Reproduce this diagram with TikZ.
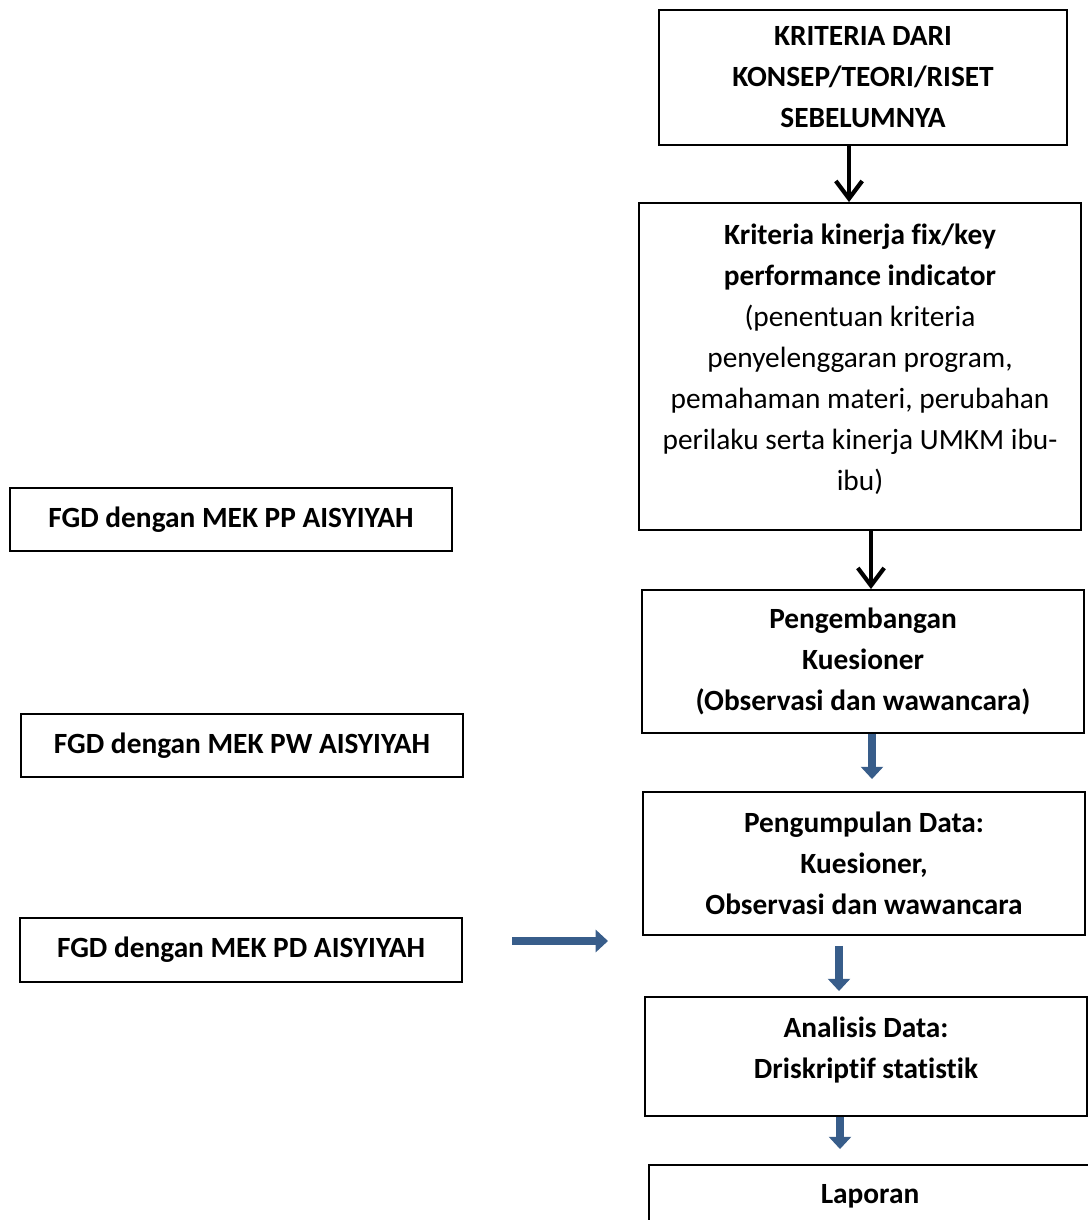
\documentclass[tikz,border=0pt]{standalone}
\usepackage{fontspec}
\setmainfont[Ligatures=NoCommon]{Carlito}
\usepackage{xcolor}
\usetikzlibrary{positioning}
\usetikzlibrary{arrows.meta}
\definecolor{arrowblue}{RGB}{56,93,138}

\begin{document}
\begin{tikzpicture}[x=0.02cm,y=-0.02cm,
   box/.style={draw,line width=1.1pt,align=center,inner sep=0pt,
      minimum width=8.84cm,font=\bfseries\fontsize{16.7}{23.3}\selectfont},
   blkarrow/.style={line width=2.4pt,-{Straight Barb[length=10pt,width=15pt]}},
   bluearrow/.style={arrowblue,line width=5pt,-{Triangle[length=7pt,width=12.5pt]}}]
   \path[use as bounding box,clip] (0,0) rectangle (1088,1220);

   % main column
   \node[box,minimum width=8.16cm,minimum height=2.7cm] (konsep) at (863,77.5)
      {KRITERIA DARI\\KONSEP/TEORI/RISET\\SEBELUMNYA};
   \node[box,minimum height=6.54cm] (kriteria) at (860,366.5)
      {Kriteria kinerja fix/key\\performance indicator\\
       \mdseries(penentuan kriteria\\\mdseries penyelenggaran program,\\
       \mdseries pemahaman materi, perubahan\\\mdseries perilaku serta kinerja UMKM ibu-\\
       \mdseries ibu)\\[-13pt]\mbox{}};
   \node[box,minimum height=2.86cm] (pengembangan) at (863,661.5)
      {Pengembangan\\Kuesioner\\(Observasi dan wawancara)};
   \node[box,minimum height=2.86cm] (pengumpulan) at (864,863.5)
      {Pengumpulan Data:\\Kuesioner,\\Observasi dan wawancara};
   \node[box,minimum height=2.38cm] (analisis) at (866,1056.5)
      {Analisis Data:\\Driskriptif statistik\\[-13pt]\mbox{}};
   \node[box,minimum height=1.24cm] (laporan) at (870,1196) {Laporan};

   % FGD boxes
   \node[box,minimum height=1.26cm] (fgdpp) at (231,519.5) {FGD dengan MEK PP AISYIYAH};
   \node[box,minimum height=1.26cm] (fgdpw) at (242,745.5) {FGD dengan MEK PW AISYIYAH};
   \node[box,minimum height=1.28cm] (fgdpd) at (241,950) {FGD dengan MEK PD AISYIYAH};

   % arrows
   \draw[blkarrow] ([xshift=-0.28cm]konsep.south) coordinate (a1) -- (a1 |- kriteria.north);
   \draw[blkarrow] ([xshift=0.22cm]kriteria.south) coordinate (a2) -- (a2 |- pengembangan.north);
   \draw[bluearrow,shorten >=0.24cm] ([xshift=0.18cm]pengembangan.south) coordinate (a3)
      -- (a3 |- pengumpulan.north);
   \draw[bluearrow,shorten <=0.2cm,shorten >=0.1cm] ([xshift=-0.5cm]pengumpulan.south) coordinate (a4)
      -- (a4 |- analisis.north);
   \draw[bluearrow,shorten >=0.3cm] ([xshift=-0.52cm]analisis.south) coordinate (a5)
      -- (a5 |- laporan.north);
   \coordinate (pdstart) at (512,941);
   \coordinate (pdend) at (608,941);
   \draw[bluearrow] (pdstart) -- (pdend);
\end{tikzpicture}
\end{document}
